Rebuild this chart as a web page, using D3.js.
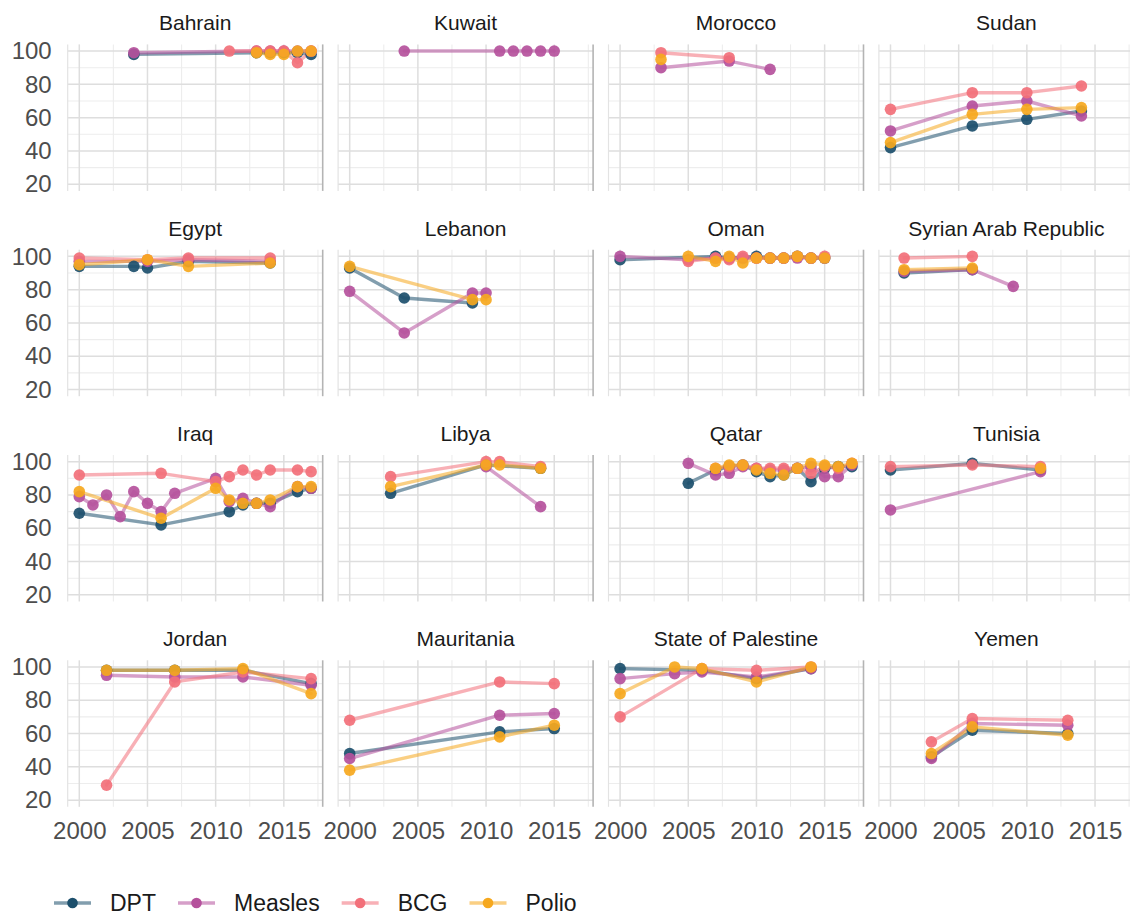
<!DOCTYPE html>
<html><head><meta charset="utf-8">
<script src="https://cdn.jsdelivr.net/npm/d3@7/dist/d3.min.js"></script>
<style>
body{margin:0;background:#fff}
text{font-family:"Liberation Sans",Arial,sans-serif}
</style>
</head><body>
<svg id="chart" width="1130" height="915"></svg>
<script>
// ---------- data ----------
const countries = ["Bahrain","Kuwait","Morocco","Sudan",
  "Egypt","Lebanon","Oman","Syrian Arab Republic",
  "Iraq","Libya","Qatar","Tunisia",
  "Jordan","Mauritania","State of Palestine","Yemen"];
const vaccines = ["DPT","Measles","BCG","Polio"];
const vaccineColors = ["#1c4f6c","#b5519c","#f2707a","#f6a81e"];
const xTicks = [2000,2005,2010,2015];
const xMinorTicks = [2002.5,2007.5,2012.5,2017.5];
const yTicks = [20,40,60,80,100];
const yMinorTicks = [30,50,70,90];

const dptData = [
  ["Bahrain",2004,98],["Bahrain",2013,99],["Bahrain",2014,99],["Bahrain",2015,99],["Bahrain",2016,99],["Bahrain",2017,98],
  ["Sudan",2000,42],["Sudan",2006,55],["Sudan",2010,59],["Sudan",2014,64],
  ["Egypt",2000,94],["Egypt",2004,94],["Egypt",2005,93],["Egypt",2008,97],["Egypt",2014,96],
  ["Lebanon",2000,93],["Lebanon",2004,75],["Lebanon",2009,72],
  ["Oman",2000,98],["Oman",2007,100],["Oman",2008,99],["Oman",2010,100],["Oman",2011,99],["Oman",2012,99],["Oman",2013,100],["Oman",2014,99],["Oman",2015,99],
  ["Syrian Arab Republic",2001,90],["Syrian Arab Republic",2006,92],
  ["Iraq",2000,69],["Iraq",2006,62],["Iraq",2011,70],["Iraq",2012,74],["Iraq",2013,75],["Iraq",2014,75],["Iraq",2016,82],["Iraq",2017,84],
  ["Libya",2003,81],["Libya",2010,98],["Libya",2014,96],
  ["Qatar",2005,87],["Qatar",2007,95],["Qatar",2008,97],["Qatar",2009,98],["Qatar",2010,94],["Qatar",2011,91],["Qatar",2012,92],["Qatar",2013,96],["Qatar",2014,88],["Qatar",2015,96],["Qatar",2016,97],["Qatar",2017,97],
  ["Tunisia",2000,95],["Tunisia",2006,99],["Tunisia",2011,95],
  ["Jordan",2002,98],["Jordan",2007,98],["Jordan",2012,98],["Jordan",2017,90],
  ["Mauritania",2000,48],["Mauritania",2011,61],["Mauritania",2015,63],
  ["State of Palestine",2000,99],["State of Palestine",2006,98],["State of Palestine",2010,93],["State of Palestine",2014,99],
  ["Yemen",2003,46],["Yemen",2006,62],["Yemen",2013,60]
];
const measlesData = [
  ["Bahrain",2004,99],["Bahrain",2013,100],["Bahrain",2014,100],["Bahrain",2015,100],["Bahrain",2016,100],["Bahrain",2017,100],
  ["Kuwait",2004,100],["Kuwait",2011,100],["Kuwait",2012,100],["Kuwait",2013,100],["Kuwait",2014,100],["Kuwait",2015,100],
  ["Morocco",2003,90],["Morocco",2008,94],["Morocco",2011,89],
  ["Sudan",2000,52],["Sudan",2006,67],["Sudan",2010,70],["Sudan",2014,61],
  ["Egypt",2000,97],["Egypt",2005,97],["Egypt",2008,98],["Egypt",2014,97],
  ["Lebanon",2000,79],["Lebanon",2004,54],["Lebanon",2009,78],["Lebanon",2010,78],
  ["Oman",2000,100],["Oman",2005,98],["Oman",2007,99],["Oman",2008,99],["Oman",2009,99],["Oman",2010,99],["Oman",2011,99],["Oman",2012,99],["Oman",2013,99],["Oman",2014,99],["Oman",2015,99],
  ["Syrian Arab Republic",2001,91],["Syrian Arab Republic",2006,92],["Syrian Arab Republic",2009,82],
  ["Iraq",2000,79],["Iraq",2001,74],["Iraq",2002,80],["Iraq",2003,67],["Iraq",2004,82],["Iraq",2005,75],["Iraq",2006,70],["Iraq",2007,81],["Iraq",2010,90],["Iraq",2011,76],["Iraq",2012,78],["Iraq",2013,75],["Iraq",2014,73],["Iraq",2016,85],["Iraq",2017,84],
  ["Libya",2010,97],["Libya",2014,73],
  ["Qatar",2005,99],["Qatar",2007,92],["Qatar",2008,93],["Qatar",2009,97],["Qatar",2010,96],["Qatar",2011,95],["Qatar",2012,95],["Qatar",2013,96],["Qatar",2014,97],["Qatar",2015,91],["Qatar",2016,91],["Qatar",2017,98],
  ["Tunisia",2000,71],["Tunisia",2011,94],
  ["Jordan",2002,95],["Jordan",2007,94],["Jordan",2012,94],["Jordan",2017,89],
  ["Mauritania",2000,45],["Mauritania",2011,71],["Mauritania",2015,72],
  ["State of Palestine",2000,93],["State of Palestine",2004,96],["State of Palestine",2006,97],["State of Palestine",2010,94],["State of Palestine",2014,99],
  ["Yemen",2003,45],["Yemen",2006,66],["Yemen",2013,65]
];
const bcgData = [
  ["Bahrain",2011,100],["Bahrain",2013,100],["Bahrain",2014,100],["Bahrain",2015,100],["Bahrain",2016,93],["Bahrain",2017,100],
  ["Morocco",2003,99],["Morocco",2008,96],
  ["Sudan",2000,65],["Sudan",2006,75],["Sudan",2010,75],["Sudan",2014,79],
  ["Egypt",2000,99],["Egypt",2005,98],["Egypt",2008,99],["Egypt",2014,99],
  ["Oman",2005,97],["Oman",2007,99],["Oman",2008,98],["Oman",2009,100],["Oman",2010,99],["Oman",2011,99],["Oman",2012,99],["Oman",2013,100],["Oman",2014,99],["Oman",2015,100],
  ["Syrian Arab Republic",2001,99],["Syrian Arab Republic",2006,100],
  ["Iraq",2000,92],["Iraq",2006,93],["Iraq",2010,88],["Iraq",2011,91],["Iraq",2012,95],["Iraq",2013,92],["Iraq",2014,95],["Iraq",2016,95],["Iraq",2017,94],
  ["Libya",2003,91],["Libya",2010,100],["Libya",2011,100],["Libya",2014,97],
  ["Qatar",2007,96],["Qatar",2008,97],["Qatar",2009,98],["Qatar",2010,96],["Qatar",2011,96],["Qatar",2012,96],["Qatar",2013,96],["Qatar",2014,93],["Qatar",2015,97],["Qatar",2016,96],["Qatar",2017,99],
  ["Tunisia",2000,97],["Tunisia",2006,98],["Tunisia",2011,97],
  ["Jordan",2002,29],["Jordan",2007,91],["Jordan",2012,97],["Jordan",2017,93],
  ["Mauritania",2000,68],["Mauritania",2011,91],["Mauritania",2015,90],
  ["State of Palestine",2000,70],["State of Palestine",2006,99],["State of Palestine",2010,98],["State of Palestine",2014,100],
  ["Yemen",2003,55],["Yemen",2006,69],["Yemen",2013,68]
];
const polioData = [
  ["Bahrain",2013,99],["Bahrain",2014,98],["Bahrain",2015,98],["Bahrain",2016,100],["Bahrain",2017,100],
  ["Morocco",2003,95],
  ["Sudan",2000,45],["Sudan",2006,62],["Sudan",2010,65],["Sudan",2014,66],
  ["Egypt",2000,95],["Egypt",2005,98],["Egypt",2008,94],["Egypt",2014,96],
  ["Lebanon",2000,94],["Lebanon",2009,74],["Lebanon",2010,74],
  ["Oman",2005,100],["Oman",2007,97],["Oman",2008,100],["Oman",2009,96],["Oman",2010,99],["Oman",2011,99],["Oman",2012,99],["Oman",2013,100],["Oman",2014,99],["Oman",2015,99],
  ["Syrian Arab Republic",2001,92],["Syrian Arab Republic",2006,93],
  ["Iraq",2000,82],["Iraq",2006,66],["Iraq",2010,84],["Iraq",2011,77],["Iraq",2012,75],["Iraq",2013,75],["Iraq",2014,77],["Iraq",2016,85],["Iraq",2017,85],
  ["Libya",2003,85],["Libya",2010,98],["Libya",2011,98],["Libya",2014,96],
  ["Qatar",2007,96],["Qatar",2008,98],["Qatar",2009,98],["Qatar",2010,95],["Qatar",2011,93],["Qatar",2012,92],["Qatar",2013,96],["Qatar",2014,99],["Qatar",2015,98],["Qatar",2016,97],["Qatar",2017,99],
  ["Tunisia",2011,96],
  ["Jordan",2002,98],["Jordan",2007,98],["Jordan",2012,99],["Jordan",2017,84],
  ["Mauritania",2000,38],["Mauritania",2011,58],["Mauritania",2015,65],
  ["State of Palestine",2000,84],["State of Palestine",2004,100],["State of Palestine",2006,99],["State of Palestine",2010,91],["State of Palestine",2014,100],
  ["Yemen",2003,48],["Yemen",2006,64],["Yemen",2013,59]
];
const seriesData = [dptData, measlesData, bcgData, polioData];

// ---------- layout ----------
const nCols = 4;
const panelW = 255, panelH = 146.5;
const left0 = 67.7, colPitch = 270.4;
const top0 = 44.4, rowPitch = 205.3;

const svg = d3.select("#chart");
const x = d3.scaleLinear().domain([1999.15, 2017.85]).range([0, panelW]);
const y = d3.scaleLinear().domain([16, 104]).range([panelH, 0]);
const line = d3.line().x(d => x(d[1])).y(d => y(d[2]));

countries.forEach((c, i) => {
  const col = i % nCols, row = Math.floor(i / nCols);
  const g = svg.append("g").attr("transform", `translate(${left0 + col*colPitch},${top0 + row*rowPitch})`);

  // minor grid
  g.selectAll(".ymin").data(yMinorTicks).join("line")
    .attr("x1", 0).attr("x2", panelW).attr("y1", d => y(d)).attr("y2", d => y(d))
    .attr("stroke", "#ededed").attr("stroke-width", 1.1);
  g.selectAll(".xmin").data(xMinorTicks).join("line")
    .attr("y1", 0).attr("y2", panelH).attr("x1", d => x(d)).attr("x2", d => x(d))
    .attr("stroke", "#ededed").attr("stroke-width", 1.1);
  // major grid
  g.selectAll(".ymaj").data(yTicks).join("line")
    .attr("x1", 0).attr("x2", panelW).attr("y1", d => y(d)).attr("y2", d => y(d))
    .attr("stroke", "#dedede").attr("stroke-width", 1.5);
  g.selectAll(".xmaj").data(xTicks).join("line")
    .attr("y1", 0).attr("y2", panelH).attr("x1", d => x(d)).attr("x2", d => x(d))
    .attr("stroke", "#dedede").attr("stroke-width", 1.5);
  // panel edges
  g.append("line").attr("x1", 0).attr("x2", 0).attr("y1", 0).attr("y2", panelH)
    .attr("stroke", "#e3e3e3").attr("stroke-width", 1.2);
  g.append("line").attr("x1", panelW).attr("x2", panelW).attr("y1", 0).attr("y2", panelH)
    .attr("stroke", "#b4b4b4").attr("stroke-width", 1.6);

  // strip title
  g.append("text").attr("x", panelW/2).attr("y", -14)
    .attr("text-anchor", "middle").attr("font-size", 21).attr("fill", "#1a1a1a").text(c);

  // axes
  if (col === 0) {
    const ax = g.append("g").call(d3.axisLeft(y).tickValues(yTicks).tickSize(0).tickPadding(16));
    ax.select(".domain").remove();
    ax.selectAll("text").attr("font-size", 24).attr("fill", "#4d4d4d").style("font-family", '"Liberation Sans",Arial,sans-serif');
  }
  if (row === 3) {
    const ax = g.append("g").attr("transform", `translate(0,${panelH})`)
      .call(d3.axisBottom(x).tickValues(xTicks).tickFormat(d3.format("d")).tickSize(0).tickPadding(15));
    ax.select(".domain").remove();
    ax.selectAll("text").attr("font-size", 24).attr("fill", "#4d4d4d").style("font-family", '"Liberation Sans",Arial,sans-serif');
  }

  // lines
  seriesData.forEach((arr, k) => {
    const pts = arr.filter(d => d[0] === c).sort((a, b) => a[1] - b[1]);
    if (pts.length > 1) {
      g.append("path").datum(pts).attr("d", line)
        .attr("fill", "none").attr("stroke", vaccineColors[k]).attr("stroke-opacity", 0.55)
        .attr("stroke-width", 3.4).attr("stroke-linejoin", "round").attr("stroke-linecap", "round");
    }
  });
  // points
  seriesData.forEach((arr, k) => {
    const pts = arr.filter(d => d[0] === c);
    g.selectAll(null).data(pts).join("circle")
      .attr("cx", d => x(d[1])).attr("cy", d => y(d[2])).attr("r", 5.8)
      .attr("fill", vaccineColors[k]).attr("fill-opacity", 0.92);
  });
});

// ---------- legend ----------
const legend = svg.append("g").attr("transform", "translate(0,903)");
let lx = 54;
vaccines.forEach((v, k) => {
  const it = legend.append("g").attr("transform", `translate(${lx},0)`);
  it.append("line").attr("x1", 0).attr("x2", 37).attr("y1", 0).attr("y2", 0)
    .attr("stroke", vaccineColors[k]).attr("stroke-opacity", 0.55).attr("stroke-width", 3.4);
  it.append("circle").attr("cx", 18.5).attr("cy", 0).attr("r", 5.3).attr("fill", vaccineColors[k]);
  const t = it.append("text").attr("x", 56).attr("y", 0).attr("dy", "0.35em")
    .attr("font-size", 23).attr("fill", "#1a1a1a").text(v);
  lx += 56 + t.node().getComputedTextLength() + 22;
});
</script>
</body></html>
